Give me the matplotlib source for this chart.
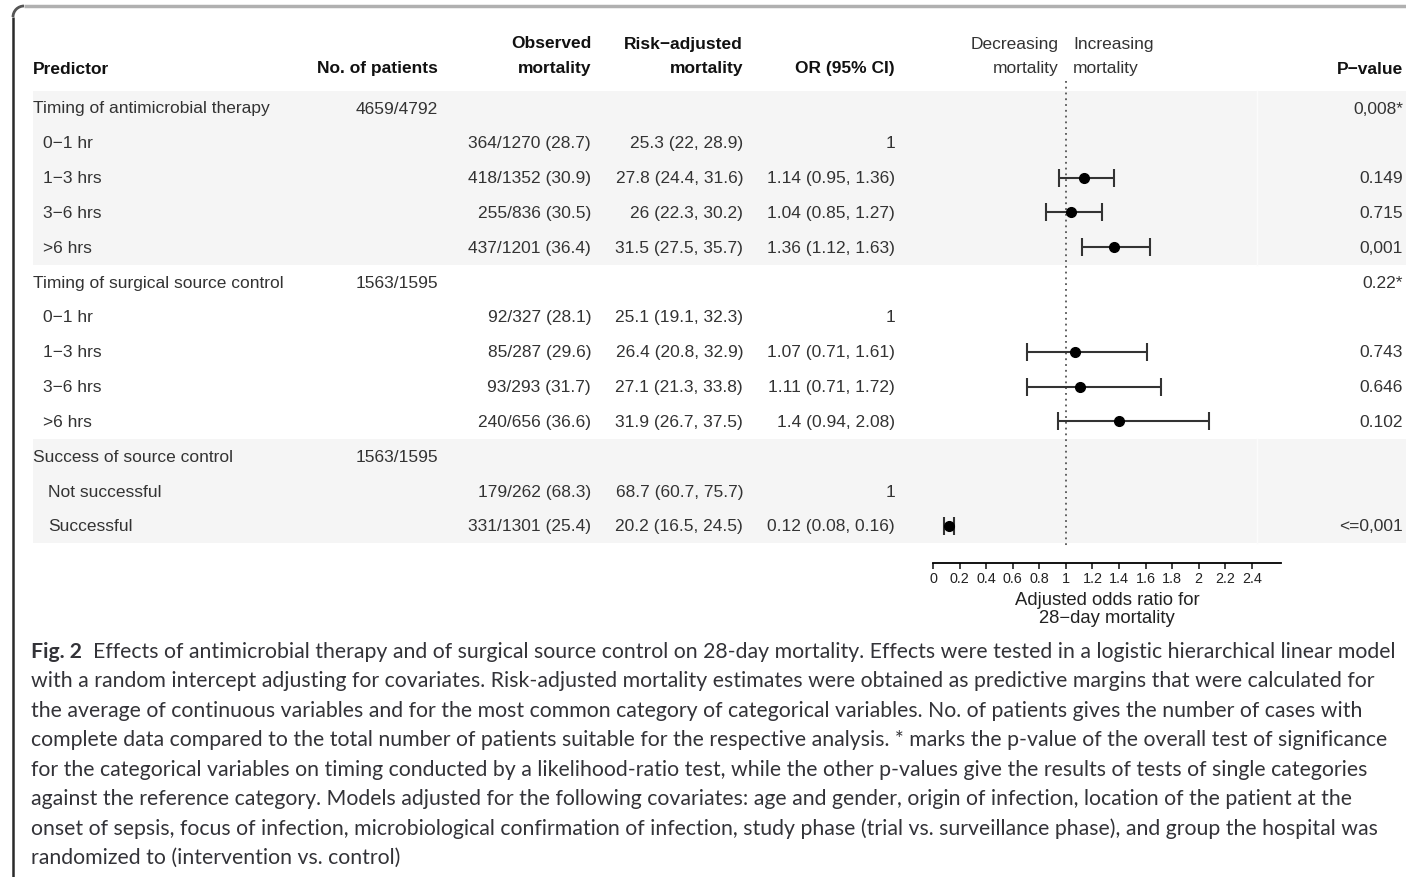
"""
Forest plot table: timing of antimicrobial therapy / source control vs
28-day mortality (Fig. 2 style), drawn as one figure with a caption.
"""

import numpy as np
import matplotlib
matplotlib.use("Agg")
import matplotlib.pyplot as plt
from matplotlib.patches import Rectangle, Arc
from matplotlib.ticker import FuncFormatter

MINUS = "\u2212"

# ---- data ---------------------------------------------------------------
labels = [
    "Timing of antimicrobial therapy", f"0{MINUS}1 hr", f"1{MINUS}3 hrs",
    f"3{MINUS}6 hrs", ">6 hrs",
    "Timing of surgical source control", f"0{MINUS}1 hr", f"1{MINUS}3 hrs",
    f"3{MINUS}6 hrs", ">6 hrs",
    "Success of source control", "Not successful", "Successful",
]
indent = [0, 1, 1, 1, 1, 0, 1, 1, 1, 1, 0, 2, 2]
n_patients = ["4659/4792", "", "", "", "", "1563/1595", "", "", "", "",
              "1563/1595", "", ""]
observed = ["", "364/1270 (28.7)", "418/1352 (30.9)", "255/836 (30.5)",
            "437/1201 (36.4)", "", "92/327 (28.1)", "85/287 (29.6)",
            "93/293 (31.7)", "240/656 (36.6)", "", "179/262 (68.3)",
            "331/1301 (25.4)"]
adjusted = ["", "25.3 (22, 28.9)", "27.8 (24.4, 31.6)", "26 (22.3, 30.2)",
            "31.5 (27.5, 35.7)", "", "25.1 (19.1, 32.3)", "26.4 (20.8, 32.9)",
            "27.1 (21.3, 33.8)", "31.9 (26.7, 37.5)", "", "68.7 (60.7, 75.7)",
            "20.2 (16.5, 24.5)"]
nan = np.nan
or_est = np.array([nan, 1, 1.14, 1.04, 1.36, nan, 1, 1.07, 1.11, 1.4, nan, 1, 0.12])
or_lo = np.array([nan, nan, 0.95, 0.85, 1.12, nan, nan, 0.71, 0.71, 0.94, nan, nan, 0.08])
or_hi = np.array([nan, nan, 1.36, 1.27, 1.63, nan, nan, 1.61, 1.72, 2.08, nan, nan, 0.16])
p_values = ["0,008*", "", "0.149", "0.715", "0,001", "0.22*", "", "0.743",
            "0.646", "0.102", "", "", "<=0,001"]
x_ticks = [0, 0.2, 0.4, 0.6, 0.8, 1, 1.2, 1.4, 1.6, 1.8, 2, 2.2, 2.4]

caption_bold = "Fig. 2"
caption_lines = [
    "  Effects of antimicrobial therapy and of surgical source control on 28-day mortality. "
    "Effects were tested in a logistic hierarchical linear model",
    "with a random intercept adjusting for covariates. Risk-adjusted mortality estimates were "
    "obtained as predictive margins that were calculated for",
    "the average of continuous variables and for the most common category of categorical "
    "variables. No. of patients gives the number of cases with",
    "complete data compared to the total number of patients suitable for the respective "
    "analysis. * marks the p-value of the overall test of significance",
    "for the categorical variables on timing conducted by a likelihood-ratio test, while the "
    "other p-values give the results of tests of single categories",
    "against the reference category. Models adjusted for the following covariates: age and "
    "gender, origin of infection, location of the patient at the",
    "onset of sepsis, focus of infection, microbiological confirmation of infection, study "
    "phase (trial vs. surveillance phase), and group the hospital was",
    "randomized to (intervention vs. control)",
]

# ---- layout -------------------------------------------------------------
W, H = 1406, 878
ROW0, ROWH = 109, 34.83
TXT = "#333333"
FS = 12.5
P_X = 1403          # right edge of the p-value column
plt.rcParams["font.family"] = ["Liberation Sans", "DejaVu Sans"]

fig = plt.figure(figsize=(W / 100, H / 100), dpi=100)
bg = fig.add_axes([0, 0, 1, 1])
bg.set_xlim(0, W)
bg.set_ylim(H, 0)
bg.axis("off")


def row_y(i):
    return ROW0 + ROWH * i


# shaded bands for groups 1 and 3
for first, last in [(0, 4), (10, 12)]:
    top = row_y(first) - ROWH / 2
    bg.add_patch(Rectangle((33, top), W - 33, ROWH * (last - first + 1),
                           facecolor="#f5f5f5", edgecolor="none", zorder=0))
    bg.plot([1257, 1257], [top, top + ROWH * (last - first + 1)],
            color="#fbfbfb", lw=1, zorder=0.5)

# frame of the figure box
bg.plot([24, W], [7, 7], color="#b0b0b0", lw=2.5, solid_capstyle="butt")
bg.plot([13, 13], [18, H], color="#2a2a2a", lw=1.8, solid_capstyle="butt")
bg.add_patch(Arc((24, 18), 22, 22, theta1=180, theta2=270,
                 color="#555555", lw=2))

# header
hdr = dict(fontsize=FS, fontweight="bold", color="#111111")
y1, y2 = 44, 69
bg.text(33, y2, "Predictor", ha="left", va="center", **hdr)
bg.text(438, y2, "No. of patients", ha="right", va="center", **hdr)
bg.text(591, y1, "Observed", ha="right", va="center", **hdr)
bg.text(591, y2, "mortality", ha="right", va="center", **hdr)
bg.text(743, y1, f"Risk{MINUS}adjusted", ha="right", va="center", **hdr)
bg.text(743, y2, "mortality", ha="right", va="center", **hdr)
bg.text(895, y2, "OR (95% CI)", ha="right", va="center", **hdr)
bg.text(P_X, y2, f"P{MINUS}value", ha="right", va="center", **hdr)
bg.text(1059, y1, "Decreasing", ha="right", va="center", fontsize=FS, color=TXT)
bg.text(1059, y2, "mortality", ha="right", va="center", fontsize=FS, color=TXT)
bg.text(1073, y1, "Increasing", ha="left", va="center", fontsize=FS, color=TXT)
bg.text(1073, y2, "mortality", ha="left", va="center", fontsize=FS, color=TXT)

# table body
indent_x = {0: 33, 1: 43, 2: 48}
for i, lab in enumerate(labels):
    y = row_y(i)
    kw = dict(fontsize=FS, color=TXT, va="center")
    bg.text(indent_x[indent[i]], y, lab, ha="left", **kw)
    bg.text(438, y, n_patients[i], ha="right", **kw)
    bg.text(591, y, observed[i], ha="right", **kw)
    bg.text(743, y, adjusted[i], ha="right", **kw)
    if not np.isnan(or_est[i]):
        if np.isnan(or_lo[i]):
            or_txt = f"{or_est[i]:g}"
        else:
            or_txt = f"{or_est[i]:g} ({or_lo[i]:g}, {or_hi[i]:g})"
        bg.text(895, y, or_txt, ha="right", **kw)
    bg.text(P_X, y, p_values[i], ha="right", **kw)

# forest panel
ax_top, ax_bot = 82, 564
ax = fig.add_axes([933 / W, 1 - ax_bot / H, (1281 - 933) / W, (ax_bot - ax_top) / H])
ax.set_facecolor("none")
ax.set_xlim(0, 2.62)
ax.set_ylim((ax_bot - ROW0) / ROWH, (ax_top - ROW0) / ROWH)
for s in ["left", "right", "top"]:
    ax.spines[s].set_visible(False)
ax.spines["bottom"].set_linewidth(1.3)
ax.set_yticks([])
ax.set_xticks(x_ticks)
ax.xaxis.set_major_formatter(FuncFormatter(lambda v, _: f"{v:g}"))
ax.tick_params(axis="x", length=4, width=1.2, labelsize=10.4, pad=2, colors="#222222")
ax.set_xlabel(f"Adjusted odds ratio for\n28{MINUS}day mortality",
              fontsize=13.3, color="#222222", labelpad=4, linespacing=1.12)

rows = np.arange(len(labels))
ax.plot([1, 1], [(ax_top - ROW0) / ROWH, 12.6], color="#555555", lw=1.3,
        ls=(0, (1, 2.2)), zorder=1)
has_ci = ~np.isnan(or_lo)
ax.errorbar(or_est[has_ci], rows[has_ci],
            xerr=[or_est[has_ci] - or_lo[has_ci], or_hi[has_ci] - or_est[has_ci]],
            fmt="o", color="black", ecolor="#333333", elinewidth=1.5,
            capsize=6.5, capthick=1.5, markersize=7, zorder=3)

# caption
cap_kw = dict(fontsize=15.3, color="#333338", va="center", family=["Lato", "DejaVu Sans"])
cap_y0, cap_dy = 652, 29.4
t0 = bg.text(31, cap_y0, caption_bold, ha="left", fontweight="bold", **cap_kw)
bg.annotate(caption_lines[0], xy=(1, 0.5), xycoords=t0, ha="left", **cap_kw)
for k, line in enumerate(caption_lines[1:], start=1):
    bg.text(31, cap_y0 + cap_dy * k, line, ha="left", **cap_kw)

fig.savefig("out.png", dpi=100)
